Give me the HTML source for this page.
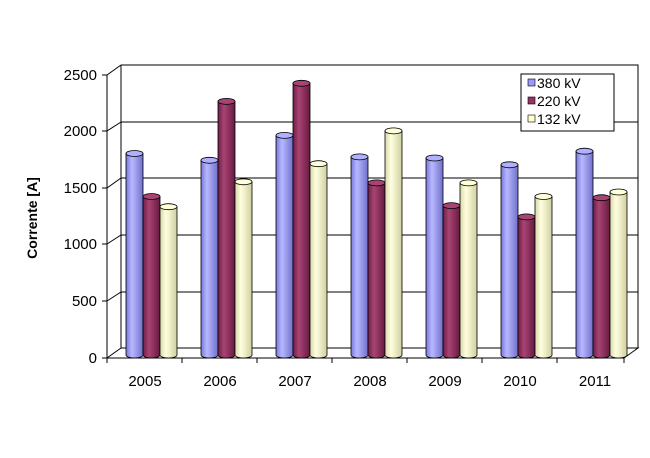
<!DOCTYPE html><html><head><style>body{margin:0;background:#fff}</style></head><body>
<svg width="650" height="453" xmlns="http://www.w3.org/2000/svg" font-family="Liberation Sans, Arial, sans-serif">
<defs>
<linearGradient id="gb" x1="0" x2="1"><stop offset="0" stop-color="#7777dd"/><stop offset="0.35" stop-color="#b8b8ff"/><stop offset="1" stop-color="#7070cc"/></linearGradient>
<linearGradient id="gr" x1="0" x2="1"><stop offset="0" stop-color="#6e1f47"/><stop offset="0.35" stop-color="#a84474"/><stop offset="1" stop-color="#661a40"/></linearGradient>
<linearGradient id="gy" x1="0" x2="1"><stop offset="0" stop-color="#d8d8a8"/><stop offset="0.35" stop-color="#ffffe0"/><stop offset="1" stop-color="#cfcf9f"/></linearGradient>
</defs>
<g stroke="#000" stroke-width="1" fill="none">
<path d="M121,65H638V348"/>
<path d="M121,65V348H638L624,358H107"/>
<path d="M121,122H638M121,178H638M121,235H638M121,292H638"/>
<path d="M107,75V358M107,75L121,65M107,131L121,122M107,188L121,178M107,244L121,235M107,301L121,292M107,358L121,348"/>
<path d="M102,75H107M102,131H107M102,188H107M102,244H107M102,301H107M102,358H107"/>
<path d="M107,358V363M182,358V363M257,358V363M332,358V363M407,358V363M482,358V363M557,358V363M624,358V363"/>
</g>
<g font-size="15" text-anchor="end" fill="#000">
<text x="97" y="80">2500</text><text x="97" y="136">2000</text><text x="97" y="193">1500</text><text x="97" y="249">1000</text><text x="97" y="306">500</text><text x="97" y="363">0</text>
</g>
<g font-size="15" text-anchor="middle">
<text x="145" y="386">2005</text><text x="220" y="386">2006</text><text x="295" y="386">2007</text><text x="370" y="386">2008</text><text x="445" y="386">2009</text><text x="520" y="386">2010</text><text x="595" y="386">2011</text>
</g>
<text transform="translate(37,218) rotate(-90)" font-size="14" font-weight="bold" text-anchor="middle">Corrente [A]</text>
<g stroke="#000" stroke-width="0.8">
<g fill="url(#gb)">
<path d="M126,153.5V355A8.5,3 0 0 0 143,355V153.5Z"/>
<path d="M201,160.3V355A8.5,3 0 0 0 218,355V160.3Z"/>
<path d="M276,135.4V355A8.5,3 0 0 0 293,355V135.4Z"/>
<path d="M351,156.9V355A8.5,3 0 0 0 368,355V156.9Z"/>
<path d="M426,158V355A8.5,3 0 0 0 443,355V158Z"/>
<path d="M501,164.8V355A8.5,3 0 0 0 518,355V164.8Z"/>
<path d="M576,151.2V355A8.5,3 0 0 0 593,355V151.2Z"/>
</g>
<g fill="#b0b0ff">
<ellipse cx="134.5" cy="153.5" rx="8.5" ry="3"/><ellipse cx="209.5" cy="160.3" rx="8.5" ry="3"/><ellipse cx="284.5" cy="135.4" rx="8.5" ry="3"/><ellipse cx="359.5" cy="156.9" rx="8.5" ry="3"/><ellipse cx="434.5" cy="158" rx="8.5" ry="3"/><ellipse cx="509.5" cy="164.8" rx="8.5" ry="3"/><ellipse cx="584.5" cy="151.2" rx="8.5" ry="3"/>
</g>
<g fill="url(#gr)">
<path d="M143,196.5V355A8.5,3 0 0 0 160,355V196.5Z"/>
<path d="M218,101.4V355A8.5,3 0 0 0 235,355V101.4Z"/>
<path d="M293,83.3V355A8.5,3 0 0 0 310,355V83.3Z"/>
<path d="M368,182.9V355A8.5,3 0 0 0 385,355V182.9Z"/>
<path d="M443,205.6V355A8.5,3 0 0 0 460,355V205.6Z"/>
<path d="M518,216.9V355A8.5,3 0 0 0 535,355V216.9Z"/>
<path d="M593,197.7V355A8.5,3 0 0 0 610,355V197.7Z"/>
</g>
<g fill="#a84474">
<ellipse cx="151.5" cy="196.5" rx="8.5" ry="3"/><ellipse cx="226.5" cy="101.4" rx="8.5" ry="3"/><ellipse cx="301.5" cy="83.3" rx="8.5" ry="3"/><ellipse cx="376.5" cy="182.9" rx="8.5" ry="3"/><ellipse cx="451.5" cy="205.6" rx="8.5" ry="3"/><ellipse cx="526.5" cy="216.9" rx="8.5" ry="3"/><ellipse cx="601.5" cy="197.7" rx="8.5" ry="3"/>
</g>
<g fill="url(#gy)">
<path d="M160,206.7V355A8.5,3 0 0 0 177,355V206.7Z"/>
<path d="M235,181.8V355A8.5,3 0 0 0 252,355V181.8Z"/>
<path d="M310,163.7V355A8.5,3 0 0 0 327,355V163.7Z"/>
<path d="M385,130.9V355A8.5,3 0 0 0 402,355V130.9Z"/>
<path d="M460,182.9V355A8.5,3 0 0 0 477,355V182.9Z"/>
<path d="M535,196.5V355A8.5,3 0 0 0 552,355V196.5Z"/>
<path d="M610,192V355A8.5,3 0 0 0 627,355V192Z"/>
</g>
<g fill="#ffffd8">
<ellipse cx="168.5" cy="206.7" rx="8.5" ry="3"/><ellipse cx="243.5" cy="181.8" rx="8.5" ry="3"/><ellipse cx="318.5" cy="163.7" rx="8.5" ry="3"/><ellipse cx="393.5" cy="130.9" rx="8.5" ry="3"/><ellipse cx="468.5" cy="182.9" rx="8.5" ry="3"/><ellipse cx="543.5" cy="196.5" rx="8.5" ry="3"/><ellipse cx="618.5" cy="192" rx="8.5" ry="3"/>
</g>
</g>
<rect x="521" y="74" width="93" height="57" fill="#fff" stroke="#000"/>
<g font-size="14"><rect x="528" y="79" width="7" height="7" fill="#9999ff" stroke="#000" stroke-width="0.6"/><text x="537" y="88">380 kV</text>
<rect x="528" y="97" width="7" height="7" fill="#993366" stroke="#000" stroke-width="0.6"/><text x="537" y="106">220 kV</text>
<rect x="528" y="115" width="7" height="7" fill="#ffffcc" stroke="#000" stroke-width="0.6"/><text x="537" y="124">132 kV</text></g>
</svg></body></html>
